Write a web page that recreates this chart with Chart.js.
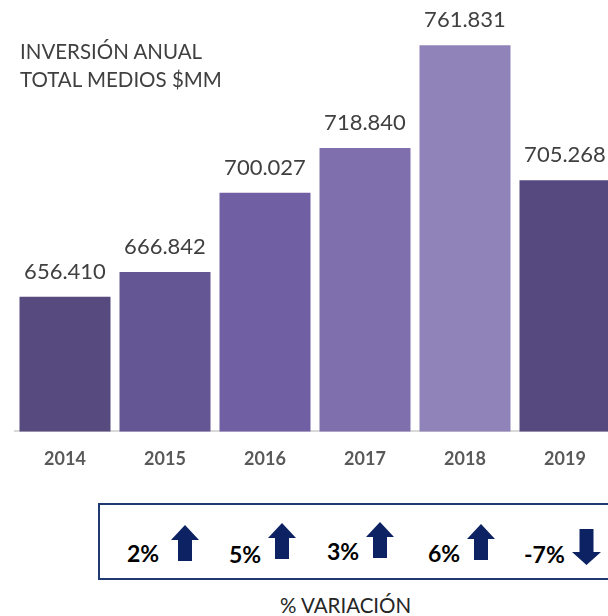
<!DOCTYPE html>
<html>
<head>
<meta charset="utf-8">
<script src="https://cdn.jsdelivr.net/npm/chart.js@4"></script>
<style>
  html, body { margin: 0; padding: 0; background: #fff; overflow: hidden; }
  body { width: 608px; height: 616px; position: relative; font-family: Lato, "Open Sans", sans-serif; }
  #wrap { position: absolute; left: 0; top: 0; width: 620px; height: 487px; }
  #title { position: absolute; left: 20px; top: 37px; font-size: 20.5px; line-height: 28px; color: #404040; }
  #varBox { position: absolute; left: 98px; top: 503px; width: 580px; height: 73px; border: 2px solid #1f3a73; border-right: none; }
  .pct { position: absolute; font-size: 23px; font-weight: 700; color: #000; line-height: 24px; }
  .arrow { position: absolute; }
  #varTitle { position: absolute; left: 280px; top: 595px; font-size: 20.5px; line-height: 20px; color: #262626; }
</style>
</head>
<body>
<div id="wrap"><canvas id="chart" width="620" height="487"></canvas></div>
<div id="title">INVERSIÓN ANUAL<br>TOTAL MEDIOS $MM</div>
<div id="variacion"></div>
<div id="varTitle">% VARIACIÓN</div>
<script>
// ── data ─────────────────────────────────────────────────
const years      = ["2014", "2015", "2016", "2017", "2018", "2019"];
const inversion  = [656.410, 666.842, 700.027, 718.840, 761.831, 705.268];
const variacion  = [2, 5, 3, 6, -7];
const barColors  = ["#564a7f", "#645594", "#705fa3", "#7f70ad", "#9083b9", "#56497f"];

// posiciones del recuadro de variación (px de la página)
const varLayout = [
  { tx: 127, ty: 541, ax: 171, ay: 525 },
  { tx: 229, ty: 542, ax: 268, ay: 523 },
  { tx: 327, ty: 539, ax: 366, ay: 522 },
  { tx: 428, ty: 541, ax: 467, ay: 524 },
  { tx: 524, ty: 542, ax: 572, ay: 529 },
];
const ARROW_CLR = "#0d2262";
const FONT = "Lato, 'Open Sans', sans-serif";

function fmtMiles(v) {
  return v.toFixed(3);
}

// ── data labels (sin plugin externo) ─────────────────────
const valueLabels = {
  id: "valueLabels",
  afterDatasetsDraw(chart) {
    const { ctx } = chart;
    const meta = chart.getDatasetMeta(0);
    ctx.save();
    ctx.font = `22px ${FONT}`;
    ctx.fillStyle = "#404040";
    ctx.textAlign = "center";
    ctx.textBaseline = "alphabetic";
    meta.data.forEach((bar, i) => {
      ctx.fillText(fmtMiles(inversion[i]), bar.x, bar.y - 18);
    });
    ctx.restore();
  },
};

new Chart(document.getElementById("chart").getContext("2d"), {
  type: "bar",
  data: {
    labels: years,
    datasets: [{
      data: inversion,
      backgroundColor: barColors,
      borderWidth: 0,
      barPercentage: 0.91,
      categoryPercentage: 1,
    }],
  },
  options: {
    responsive: false,
    animation: false,
    layout: { padding: { left: 15, right: 5, top: 2, bottom: 0 } },
    plugins: { legend: { display: false }, tooltip: { enabled: false } },
    scales: {
      x: {
        grid: { display: false, drawTicks: false },
        border: { display: true, color: "#d9d9d9", width: 2 },
        ticks: { color: "#595959", padding: 17, font: { family: FONT, weight: "bold", size: 18 } },
      },
      y: { display: false, min: 600, max: 780 },
    },
  },
  plugins: [valueLabels],
});

// ── recuadro % variación ─────────────────────────────────
const box = document.getElementById("variacion");
const upSvg = `<svg width="28" height="36" viewBox="0 0 28 36"><polygon points="14,0 28,15 21,15 21,36 7,36 7,15 0,15" fill="${ARROW_CLR}"/></svg>`;
const dnSvg = `<svg width="29" height="36" viewBox="0 0 29 36"><polygon points="7.5,0 21.5,0 21.5,23 29,23 14.5,36 0,23 7.5,23" fill="${ARROW_CLR}"/></svg>`;
let html = `<div id="varBox"></div>`;
variacion.forEach((v, i) => {
  const p = varLayout[i];
  html += `<div class="pct" style="left:${p.tx}px;top:${p.ty}px">${v}%</div>`;
  html += `<div class="arrow" style="left:${p.ax}px;top:${p.ay}px">${v >= 0 ? upSvg : dnSvg}</div>`;
});
box.innerHTML = html;
</script>
</body>
</html>
